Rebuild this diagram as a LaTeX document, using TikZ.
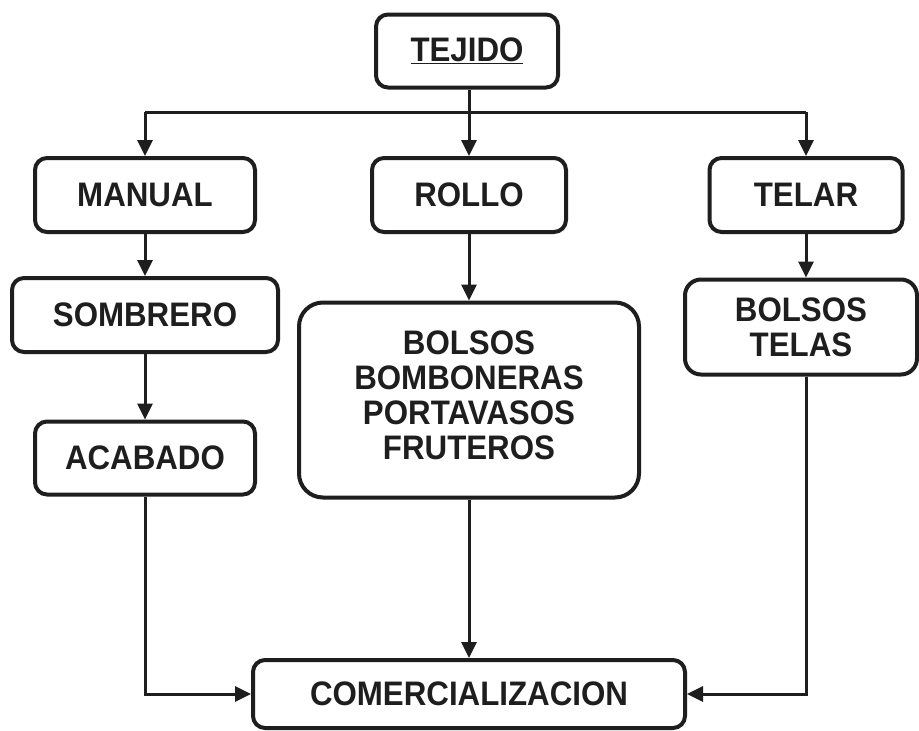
\documentclass[tikz,border=0pt]{standalone}
\usepackage{fontspec}
\setmainfont{Liberation Sans}[FakeStretch=0.92]
\usetikzlibrary{arrows.meta}
\definecolor{ink}{HTML}{1E1E1E}
\tikzset{
  box/.style={draw=ink, line width=4pt, rounded corners=12pt, fill=white,
    text=ink, align=center, inner sep=0pt,
    font=\fontsize{34}{35}\selectfont\bfseries},
  conn/.style={draw=ink, line width=3pt},
  arr/.style={conn, -{Triangle[length=16pt,width=15pt]}}
}
\begin{document}
\begin{tikzpicture}[x=1pt,y=-1pt]
\useasboundingbox[fill=white] (0,0) rectangle (919,731);
\node[box, minimum width=182pt, minimum height=73pt] (tejido) at (467,51) {\underline{TEJIDO}};
\node[box, minimum width=220pt, minimum height=74pt] (manual) at (145,195) {MANUAL};
\node[box, minimum width=194pt, minimum height=74pt] (rollo) at (469,195) {ROLLO};
\node[box, minimum width=193pt, minimum height=74pt] (telar) at (806,195) {TELAR};
\node[box, minimum width=266pt, minimum height=74pt] (sombrero) at (145,315) {SOMBRERO};
\node[box, rounded corners=24pt, minimum width=340pt, minimum height=195pt] (big) at (469,400)
  {\raisebox{8pt}{\begin{tabular}{@{}c@{}}BOLSOS\\BOMBONERAS\\PORTAVASOS\\FRUTEROS\end{tabular}}};
\node[box, rounded corners=16pt, minimum width=232pt, minimum height=95pt] (bolsos) at (801,327) {BOLSOS\\TELAS};
\node[box, minimum width=220pt, minimum height=73pt] (acabado) at (145,458) {ACABADO};
\node[box, minimum width=432pt, minimum height=68pt] (comer) at (469,694) {COMERCIALIZACION};
\coordinate (j) at (469,112);
\coordinate (jl) at (145,112);
\coordinate (jr) at (806,112);
\draw[conn] (tejido.south -| j) -- (j);
\draw[conn] (jl) -- (jr);
\draw[arr] (jl) -- (manual.north);
\draw[arr] (j) -- (rollo.north);
\draw[arr] (jr) -- (telar.north);
\draw[arr] (manual.south) -- (sombrero.north);
\draw[arr] (sombrero.south) -- (acabado.north);
\draw[arr] (rollo.south) -- (big.north);
\draw[arr] (telar.south) -- (telar.south |- bolsos.north);
\draw[arr] (big.south) -- (comer.north);
\draw[arr] (acabado.south) |- (comer.west);
\draw[arr] (bolsos.south -| telar.south) |- (comer.east);
\end{tikzpicture}
\end{document}
